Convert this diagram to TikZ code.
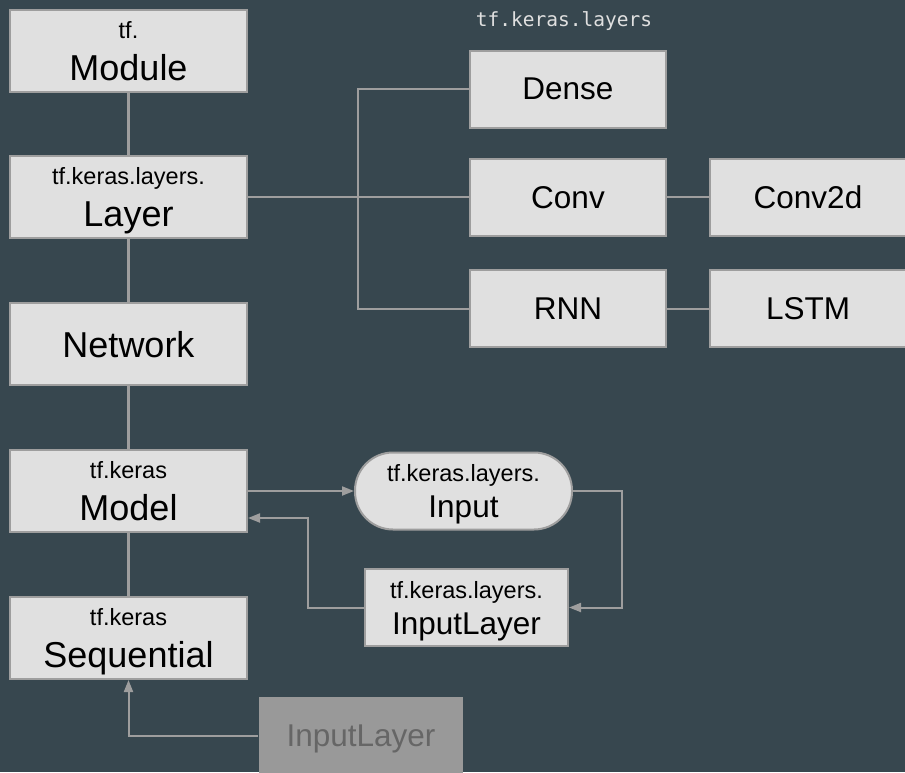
\documentclass[tikz,border=0pt]{standalone}
\usepackage{fontspec}
\usepackage{tikz}
\usetikzlibrary{arrows.meta}
\setmainfont{Liberation Sans}
\newfontfamily\codefont{DejaVu Sans Mono}
\definecolor{bg}{HTML}{37474F}
\definecolor{boxfill}{HTML}{E0E0E0}
\definecolor{edge}{HTML}{9E9E9E}
\definecolor{dim}{HTML}{999999}
\definecolor{dimtext}{HTML}{666666}
\newcommand{\modpath}[1]{{\fontsize{23.5}{28}\selectfont #1}\\}

\begin{document}
\begin{tikzpicture}[x=1pt, y=-1pt,
		cls/.style={draw=edge, fill=boxfill, line width=2pt, inner sep=0pt, minimum width=237pt, minimum height=82pt, align=center, text depth=0pt, font=\fontsize{36}{42}\selectfont},
		lyr/.style={cls, minimum width=196pt, minimum height=77pt, font=\fontsize{31.5}{36}\selectfont},
		link/.style={draw=edge, line width=2pt},
		arr/.style={link, -{Triangle[length=12pt, width=9pt]}}]
		\fill[bg] (0,0) rectangle (905,772);
		\useasboundingbox (0,0) rectangle (905,772);
		\node[cls] (k1) at (128.5,50.5) {\modpath{tf.}Module};
		\node[cls] (k2) at (128.5,197) {\modpath{tf.keras.layers.}Layer};
		\node[cls] (k3) at (128.5,344) {Network};
		\node[cls] (k4) at (128.5,491) {\modpath{tf.keras}Model};
		\node[cls] (k5) at (128.5,638) {\modpath{tf.keras}Sequential};
		\node[text=boxfill, font=\codefont\fontsize{19.5}{22}\selectfont, anchor=base] (lbl) at (564,26) {tf.keras.layers};
		\node[lyr] (dense) at (568,89) {Dense};
		\node[lyr] (conv) at (568,197) {Conv};
		\node[lyr] (rnn) at (568,308.5) {RNN};
		\node[lyr] (conv2d) at (808,197) {Conv2d};
		\node[lyr] (lstm) at (808,308.5) {LSTM};
		\node[lyr, rounded corners=38pt, minimum width=217pt] (inp) at (463.5,491) {\modpath{tf.keras.layers.}Input};
		\node[lyr, minimum width=203pt] (inl) at (466.5,607.5) {\modpath{tf.keras.layers.}InputLayer};
		\node[lyr, draw=none, fill=dim, text=dimtext, minimum width=204pt] (ghost) at (361,735.5) {InputLayer};
		\coordinate (tr) at (358,197);
		\coordinate (c1) at (622,491);
		\coordinate (c2) at (308,518);
		\foreach \x/\y in {1/2,2/3,3/4,4/5}
			\draw[link, line width=2.8pt] (k\x) -- (k\y);
		\draw[link] (k2) -- (conv);
		\draw[link] (dense) -| (tr) |- (rnn);
		\draw[link] (conv) -- (conv2d);
		\draw[link] (rnn) -- (lstm);
		\draw[arr] (k4) -- (inp);
		\draw[arr] (inp) -- (c1) |- (inl);
		\draw[arr] (inl) -| (c2) -- (k4.east |- c2);
		\draw[arr] (ghost) -| (k5);
	\end{tikzpicture}
\end{document}
